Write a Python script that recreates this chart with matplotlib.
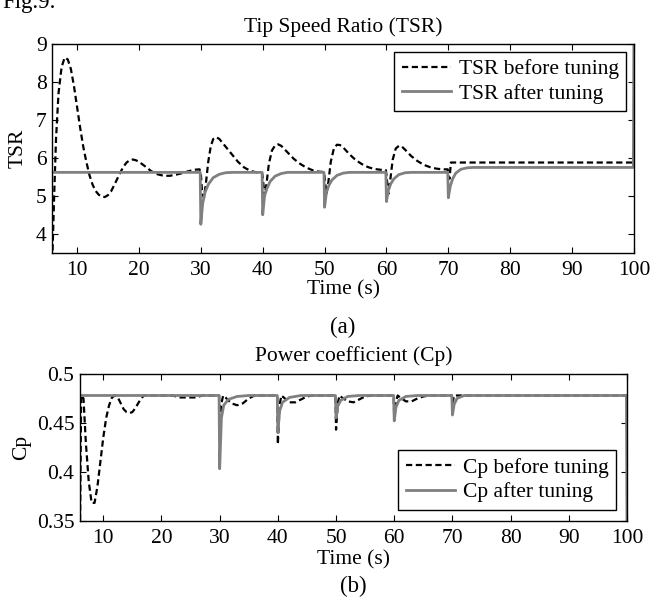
import matplotlib
matplotlib.use("Agg")
import matplotlib.pyplot as plt

plt.rcParams['font.family'] = ['Liberation Serif', 'DejaVu Serif']

# ---------------- data ----------------
tsr_before_t = [6.0, 6.3, 6.6, 7.0, 7.5, 8.0, 8.5, 9.0, 9.5, 10.0, 10.5, 11.0, 11.5, 12.0, 12.5,
                13.0, 13.5, 14.0, 14.5, 15.0, 15.5, 16.0, 16.5, 17.0, 17.5, 18.0, 18.5, 19.0,
                19.5, 20.0, 21.0, 22.0, 23.0, 24.0, 25.0, 26.0, 27.0, 28.0, 29.0, 29.8,
                30.0, 30.2, 30.5, 30.8, 31.2, 31.6, 32.0, 32.5, 33.0, 34.0, 35.0, 36.0, 37.0,
                38.0, 39.0, 39.9,
                40.0, 40.3, 40.6, 41.0, 41.5, 42.0, 42.5, 43.0, 44.0, 45.0, 46.0, 47.0, 48.0,
                49.0, 49.9,
                50.0, 50.3, 50.6, 51.0, 51.5, 52.0, 52.5, 53.0, 54.0, 55.0, 56.0, 57.0, 58.0,
                59.0, 59.9,
                60.0, 60.3, 60.6, 61.0, 61.5, 62.0, 62.5, 63.0, 64.0, 65.0, 66.0, 67.0, 68.0,
                69.0, 69.9,
                70.0, 70.2, 70.4, 100.0]
tsr_before_v = [3.3, 5.0, 6.5, 7.7, 8.4, 8.65, 8.6, 8.35, 7.9, 7.35, 6.8, 6.3, 5.9, 5.55, 5.3,
                5.13, 5.03, 4.98, 4.97, 5.02, 5.12, 5.28, 5.45, 5.62, 5.77, 5.88, 5.94, 5.96,
                5.94, 5.9, 5.78, 5.65, 5.57, 5.53, 5.53, 5.56, 5.6, 5.65, 5.69, 5.7,
                5.6, 5.1, 4.95, 5.3, 5.9, 6.3, 6.5, 6.55, 6.5, 6.3, 6.1, 5.9, 5.75,
                5.66, 5.62, 5.6,
                5.5, 5.0, 5.3, 5.85, 6.2, 6.33, 6.36, 6.32, 6.15, 5.98, 5.85, 5.75, 5.68,
                5.64, 5.63,
                5.5, 5.05, 5.35, 5.9, 6.25, 6.35, 6.34, 6.28, 6.1, 5.95, 5.84, 5.76, 5.71,
                5.69, 5.68,
                5.55, 5.05, 5.4, 5.95, 6.25, 6.32, 6.3, 6.22, 6.05, 5.92, 5.82, 5.76, 5.72,
                5.7, 5.7,
                5.5, 5.45, 5.88, 5.88]

tsr_after_t = [6.0, 29.9, 30.0, 30.3, 30.7, 31.2, 32.0, 33.0, 34.0, 35.0,
               39.9, 40.0, 40.3, 40.7, 41.2, 42.0, 43.0, 44.0,
               49.9, 50.0, 50.3, 50.7, 51.2, 52.0, 53.0, 54.0,
               59.9, 60.0, 60.3, 60.7, 61.2, 62.0, 63.0, 64.0,
               69.9, 70.0, 70.3, 70.7, 71.2, 72.0, 73.0, 74.0, 99.9, 100.0]
tsr_after_v = [5.62, 5.62, 4.25, 4.8, 5.1, 5.3, 5.48, 5.57, 5.61, 5.62,
               5.62, 4.5, 5.0, 5.2, 5.38, 5.52, 5.59, 5.62,
               5.62, 4.7, 5.1, 5.28, 5.42, 5.54, 5.6, 5.62,
               5.62, 4.85, 5.15, 5.32, 5.45, 5.56, 5.61, 5.62,
               5.62, 4.95, 5.25, 5.45, 5.6, 5.7, 5.74, 5.75, 5.75, 10.0]

cp_before_t = [6.0, 6.2, 6.6, 7.0, 7.5, 8.0, 8.5, 9.0, 9.5, 10.0, 10.5, 11.0, 11.5, 12.0,
               12.5, 13.0, 13.5, 14.0, 14.5, 15.0, 15.5, 16.0, 16.5, 17.0, 22.0, 23.0, 26.0,
               27.0, 29.9,
               30.0, 30.3, 30.6, 31.0, 32.0, 33.0, 34.0, 35.0, 36.0, 39.9,
               40.0, 40.3, 40.6, 41.0, 42.0, 43.0, 44.0, 45.0, 46.0, 49.9,
               50.0, 50.3, 50.6, 51.0, 52.0, 53.0, 54.0, 55.0, 56.0, 59.9,
               60.0, 60.3, 60.6, 61.0, 62.0, 63.0, 64.0, 65.0, 66.0, 69.9,
               70.0, 70.3, 100.0]
cp_before_v = [0.34, 0.478, 0.475, 0.43, 0.39, 0.368, 0.368, 0.385, 0.41, 0.435, 0.455, 0.468,
               0.476, 0.478, 0.476, 0.47, 0.464, 0.461, 0.46, 0.461, 0.465, 0.47, 0.475, 0.478,
               0.478, 0.476, 0.476, 0.478, 0.478,
               0.45, 0.47, 0.478, 0.476, 0.47, 0.468, 0.47, 0.475, 0.478, 0.478,
               0.428, 0.468, 0.478, 0.476, 0.471, 0.471, 0.474, 0.477, 0.478, 0.478,
               0.443, 0.47, 0.478, 0.476, 0.472, 0.471, 0.474, 0.477, 0.478, 0.478,
               0.455, 0.472, 0.478, 0.476, 0.472, 0.472, 0.475, 0.477, 0.478, 0.478,
               0.47, 0.478, 0.478]

cp_after_t = [6.0, 29.9, 30.0, 30.3, 30.7, 31.5, 33.0, 35.0,
              39.9, 40.0, 40.3, 40.8, 42.0, 44.0,
              49.9, 50.0, 50.3, 50.8, 52.0, 54.0,
              59.9, 60.0, 60.3, 60.8, 62.0, 64.0,
              69.9, 70.0, 70.3, 70.8, 72.0, 99.9, 100.0]
cp_after_v = [0.478, 0.478, 0.403, 0.455, 0.468, 0.474, 0.477, 0.478,
              0.478, 0.44, 0.462, 0.471, 0.476, 0.478,
              0.478, 0.455, 0.467, 0.473, 0.477, 0.478,
              0.478, 0.452, 0.466, 0.473, 0.477, 0.478,
              0.478, 0.458, 0.469, 0.475, 0.478, 0.478, 0.34]

x_ticks = [10, 20, 30, 40, 50, 60, 70, 80, 90, 100]
tsr_ticks = [4, 5, 6, 7, 8, 9]
cp_ticks = [0.35, 0.4, 0.45, 0.5]
cp_tick_labels = ['0.35', '0.4', '0.45', '0.5']

# ---------------- figure ----------------
W, H = 653, 599
fig = plt.figure(figsize=(W / 100, H / 100), dpi=100)

def px_axes(l, t, r, b):
    return fig.add_axes([l / W, 1 - b / H, (r - l) / W, (b - t) / H])

FS = 15.5
GREY = '#808080'
DASH = (0, (2.8, 1.6))

def style(ax):
    ax.tick_params(direction='in', top=True, right=True, labelsize=FS, length=4,
                   width=0.8)
    ax.tick_params(axis='x', pad=6)
    ax.tick_params(axis='y', pad=4)
    for s in ax.spines.values():
        s.set_linewidth(1.0)

def legend(ax, loc, pad):
    lg = ax.legend(loc=loc, fontsize=FS, frameon=True, fancybox=False,
                   edgecolor='black', framealpha=1, borderaxespad=pad,
                   handlelength=2.3, handletextpad=0.35, labelspacing=0.2,
                   borderpad=0.35)
    lg.get_frame().set_linewidth(1.0)
    return lg

# (a) TSR
ax1 = px_axes(52.3, 44.3, 634, 252.7)
ax1.plot(tsr_before_t, tsr_before_v, color='black', ls=DASH, lw=1.6,
         label='TSR before tuning')
ax1.plot(tsr_after_t, tsr_after_v, color=GREY, lw=2.0, label='TSR after tuning')
ax1.set_xlim(6, 100)
ax1.set_ylim(3.5, 9)
ax1.set_xticks(x_ticks)
ax1.set_yticks(tsr_ticks)
style(ax1)
ax1.set_title('Tip Speed Ratio (TSR)', fontsize=FS, pad=9)
ax1.set_xlabel('Time (s)', fontsize=FS, labelpad=0)
ax1.set_ylabel('TSR', fontsize=FS, labelpad=6)
legend(ax1, 'upper right', 0.35)

# (b) Cp
ax2 = px_axes(80, 374, 627, 520.5)
ax2.plot(cp_before_t, cp_before_v, color='black', ls=DASH, lw=1.6,
         label='Cp before tuning')
ax2.plot(cp_after_t, cp_after_v, color=GREY, lw=2.0, label='Cp after tuning')
ax2.set_xlim(6, 100)
ax2.set_ylim(0.35, 0.5)
ax2.set_xticks(x_ticks)
ax2.set_yticks(cp_ticks)
ax2.set_yticklabels(cp_tick_labels)
style(ax2)
ax2.set_title('Power coefficient (Cp)', fontsize=FS, pad=9)
ax2.set_xlabel('Time (s)', fontsize=FS, labelpad=2)
ax2.set_ylabel('Cp', fontsize=FS, labelpad=4)
legend(ax2, 'lower right', 0.5)

# sub-figure captions
fig.text(0.5 * (52.3 + 634) / W, 1 - 327 / H, '(a)', fontsize=FS + 1,
         ha='center', va='center')
fig.text(0.5 * (80 + 627) / W, 1 - 586 / H, '(b)', fontsize=FS + 1,
         ha='center', va='center')
fig.text(2 / W, 1 - 8 / H, 'Fig.9.', fontsize=FS + 1, ha='left', va='baseline')

fig.savefig('out.png', dpi=100)
